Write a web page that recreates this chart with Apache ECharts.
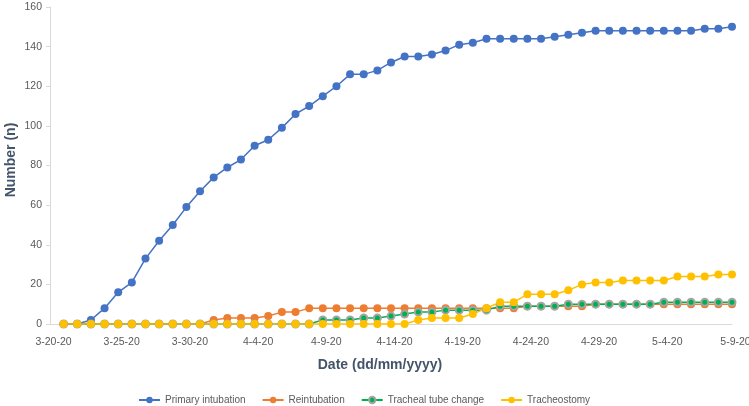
<!DOCTYPE html>
<html>
<head>
<meta charset="utf-8">
<script src="https://cdn.jsdelivr.net/npm/echarts@6/dist/echarts.min.js"></script>
<style>
html,body{margin:0;padding:0;background:#fff;}
#chart{width:749px;height:406px;}
</style>
</head>
<body>
<div id="chart"></div>
<script>
// Tick labels on the date axis (every 5 days, axis starts at 3-20-20)
const tickLabels = ['3-20-20','3-25-20','3-30-20','4-4-20','4-9-20','4-14-20','4-19-20','4-24-20','4-29-20','5-4-20','5-9-20'];
// Daily observations, 3-21-20 through 5-9-20 (day 1 .. day 50 after 3-20-20)
const primaryIntubation = [0,0,2,8,16,21,33,42,50,59, 67,74,79,83,90,93,99,106,110,115, 120,126,126,128,132,135,135,136,138,141, 142,144,144,144,144,144,145,146,147,148, 148,148,148,148,148,148,148,149,149,150];
const reintubation = [0,0,0,0,0,0,0,0,0,0, 0,2,3,3,3,4,6,6,8,8, 8,8,8,8,8,8,8,8,8,8, 8,8,8,8,9,9,9,9,9,10, 10,10,10,10,10,10,10,10,10,10];
const trachealTubeChange = [0,0,0,0,0,0,0,0,0,0, 0,0,0,0,0,0,0,0,0,2, 2,2,3,3,4,5,6,6,7,7, 7,7,9,9,9,9,9,10,10,10, 10,10,10,10,11,11,11,11,11,11];
const tracheostomy = [0,0,0,0,0,0,0,0,0,0, 0,0,0,0,0,0,0,0,0,0, 0,0,0,0,0,0,2,3,3,3, 5,8,11,11,15,15,15,17,20,21, 21,22,22,22,22,24,24,24,25,25];
const yTicks = {min:0, max:160, interval:20};

function toPoints(arr){ return arr.map((v,i)=>[i+1, v]); }

const chart = echarts.init(document.getElementById('chart'), null, {renderer:'canvas'});
const labelColor = '#595959';
const titleColor = '#44546A';
const font = 'Liberation Sans, Arial, sans-serif';

function mkSeries(name, data, color, extra){
  return Object.assign({
    name: name,
    type: 'line',
    data: toPoints(data),
    symbol: 'circle',
    symbolSize: 8,
    lineStyle: {color: color, width: 1.5},
    itemStyle: {color: color},
    animation: false
  }, extra || {});
}

chart.setOption({
  backgroundColor: '#fff',
  animation: false,
  grid: {left: 50, right: 17, top: 7, bottom: 82, containLabel: false, outerBoundsMode: 'none'},
  xAxis: {
    type: 'value', min: 0, max: 50, interval: 5,
    axisLine: {show: true, lineStyle: {color: '#D9D9D9', width: 1}},
    axisTick: {show: false},
    splitLine: {show: false},
    axisLabel: {
      color: labelColor, fontSize: 10.5, fontFamily: font, margin: 13,
      padding: [0,0,0,7],
      formatter: function(v){ return tickLabels[Math.round(v/5)] || ''; }
    },
    name: 'Date (dd/mm/yyyy)',
    nameLocation: 'middle',
    nameGap: 34,
    nameMoveOverlap: false,
    nameTextStyle: {color: titleColor, fontSize: 14, fontWeight: 'bold', fontFamily: font, padding: [0,22,0,0]}
  },
  yAxis: {
    type: 'value', min: yTicks.min, max: yTicks.max, interval: yTicks.interval,
    axisLine: {show: true, lineStyle: {color: '#D9D9D9', width: 1}},
    axisTick: {show: true, length: 4, lineStyle: {color: '#D9D9D9'}},
    splitLine: {show: false},
    axisLabel: {color: labelColor, fontSize: 10.5, fontFamily: font, margin: 8},
    name: 'Number (n)',
    nameLocation: 'middle',
    nameGap: 32,
    nameMoveOverlap: false,
    nameTextStyle: {color: titleColor, fontSize: 14, fontWeight: 'bold', fontFamily: font, padding: [0,0,0,11]}
  },
  legend: {
    top: 390, left: 133,
    itemWidth: 21, itemHeight: 8, itemGap: 16,
    textStyle: {color: labelColor, fontSize: 10, fontFamily: font},
    data: ['Primary intubation','Reintubation','Tracheal tube change','Tracheostomy']
  },
  series: [
    mkSeries('Primary intubation', primaryIntubation, '#4472C4'),
    mkSeries('Reintubation', reintubation, '#ED7D31'),
    mkSeries('Tracheal tube change', trachealTubeChange, '#00B050', {
      symbolSize: 7,
      itemStyle: {color: '#00B050', borderColor: '#A5A5A5', borderWidth: 2}
    }),
    mkSeries('Tracheostomy', tracheostomy, '#FFC000')
  ]
});
</script>
</body>
</html>
